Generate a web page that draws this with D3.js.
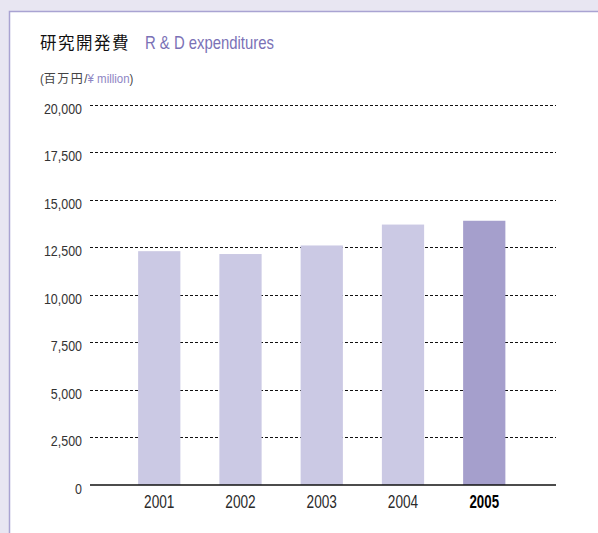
<!DOCTYPE html>
<html>
<head>
<meta charset="utf-8">
<script src="https://cdn.jsdelivr.net/npm/d3@7/dist/d3.min.js"></script>
<style>
  html, body { margin: 0; padding: 0; background: #e8e6f2; }
  svg { display: block; }
</style>
</head>
<body>
<script>
// R & D expenditures, ¥ million
const years = ["2001", "2002", "2003", "2004", "2005"];
const values = [12300, 12150, 12600, 13700, 13900];
const yTicks = [0, 2500, 5000, 7500, 10000, 12500, 15000, 17500, 20000];
const highlightYear = "2005";

const W = 598, H = 533;
const LATIN = "'Liberation Sans', Arial, sans-serif";
const CJK = "'Noto Sans CJK JP', sans-serif";

const svg = d3.select("body").append("svg").attr("width", W).attr("height", H);

// panel
svg.append("rect").attr("x", 9.5).attr("y", 11.5).attr("width", W).attr("height", H)
  .attr("fill", "#fff").attr("stroke", "#a9a3d2").attr("stroke-width", 1.5);

// lay out a row of text pieces, each with its own font and horizontal squeeze
function textRow(x0, baseline, pieces) {
  let x = x0;
  pieces.forEach(p => {
    const sx = p.sx || 1;
    const t = svg.append("text")
      .attr("transform", `translate(${x},${baseline}) scale(${sx},1)`)
      .attr("font-family", p.font).attr("font-size", p.size)
      .attr("font-weight", p.weight || "normal")
      .attr("letter-spacing", p.ls || 0)
      .attr("fill", p.color).text(p.text);
    x += t.node().getComputedTextLength() * sx + (p.gap || 0);
  });
}

// titles
textRow(40, 49, [
  { text: "研究開発費", font: CJK, size: 16.5, ls: 1.5, color: "#111", gap: 15 },
  { text: "R & D expenditures", font: LATIN, size: 17.5, sx: 0.85, color: "#7a71b6" }
]);
textRow(40, 83, [
  { text: "(", font: LATIN, size: 13.5, sx: 0.85, color: "#444" },
  { text: "百万円", font: CJK, size: 12, ls: 1.5, color: "#444" },
  { text: "/", font: LATIN, size: 13.5, sx: 0.85, color: "#444" },
  { text: "¥ million", font: LATIN, size: 13.5, sx: 0.85, color: "#8e86c4" },
  { text: ")", font: LATIN, size: 13.5, sx: 0.85, color: "#444" }
]);

// scales
const y = d3.scaleLinear().domain([0, 20000]).range([485, 104.8]);
const x = d3.scaleBand().domain(years).range([97.5, 546]).paddingInner(0.48).paddingOuter(0.5);
const gridX0 = 90, gridX1 = 556;

// gridlines
svg.append("g").selectAll("line").data(yTicks.filter(d => d > 0)).join("line")
  .attr("x1", gridX0).attr("x2", gridX1)
  .attr("y1", d => Math.round(y(d)) + 0.5).attr("y2", d => Math.round(y(d)) + 0.5)
  .attr("stroke", "#111").attr("stroke-width", 1).attr("stroke-dasharray", "3,2");

// bars
svg.append("g").selectAll("rect").data(years).join("rect")
  .attr("x", d => x(d)).attr("width", x.bandwidth())
  .attr("y", (d, i) => y(values[i])).attr("height", (d, i) => y(0) - y(values[i]))
  .attr("fill", d => d === highlightYear ? "#a59fcc" : "#cbc9e4");

// baseline
svg.append("line").attr("x1", gridX0).attr("x2", gridX1)
  .attr("y1", y(0)).attr("y2", y(0)).attr("stroke", "#111").attr("stroke-width", 1.6);

// y axis labels
const yAxis = d3.axisLeft(y).tickValues(yTicks).tickSize(0).tickPadding(0)
  .tickFormat(d3.format(","));
const gy = svg.append("g").attr("transform", "translate(82,0)").call(yAxis);
gy.select(".domain").remove();
gy.selectAll("text")
  .attr("font-family", LATIN).attr("font-size", 14.5).attr("fill", "#333")
  .attr("x", 0).attr("dy", null).attr("y", 8.3)
  .attr("transform", "scale(0.86,1)");

// x axis labels
const xAxis = d3.axisBottom(x).tickSize(0).tickPadding(0);
const gx = svg.append("g").attr("transform", "translate(0,508.3)").call(xAxis);
gx.select(".domain").remove();
gx.selectAll("text")
  .attr("font-family", LATIN).attr("font-size", 17.5)
  .attr("y", 0).attr("dy", null)
  .attr("transform", d => d === highlightYear ? "scale(0.76,1)" : "scale(0.78,1)")
  .attr("font-weight", d => d === highlightYear ? "bold" : "normal")
  .attr("fill", d => d === highlightYear ? "#000" : "#2a2a2a");
</script>
</body>
</html>
